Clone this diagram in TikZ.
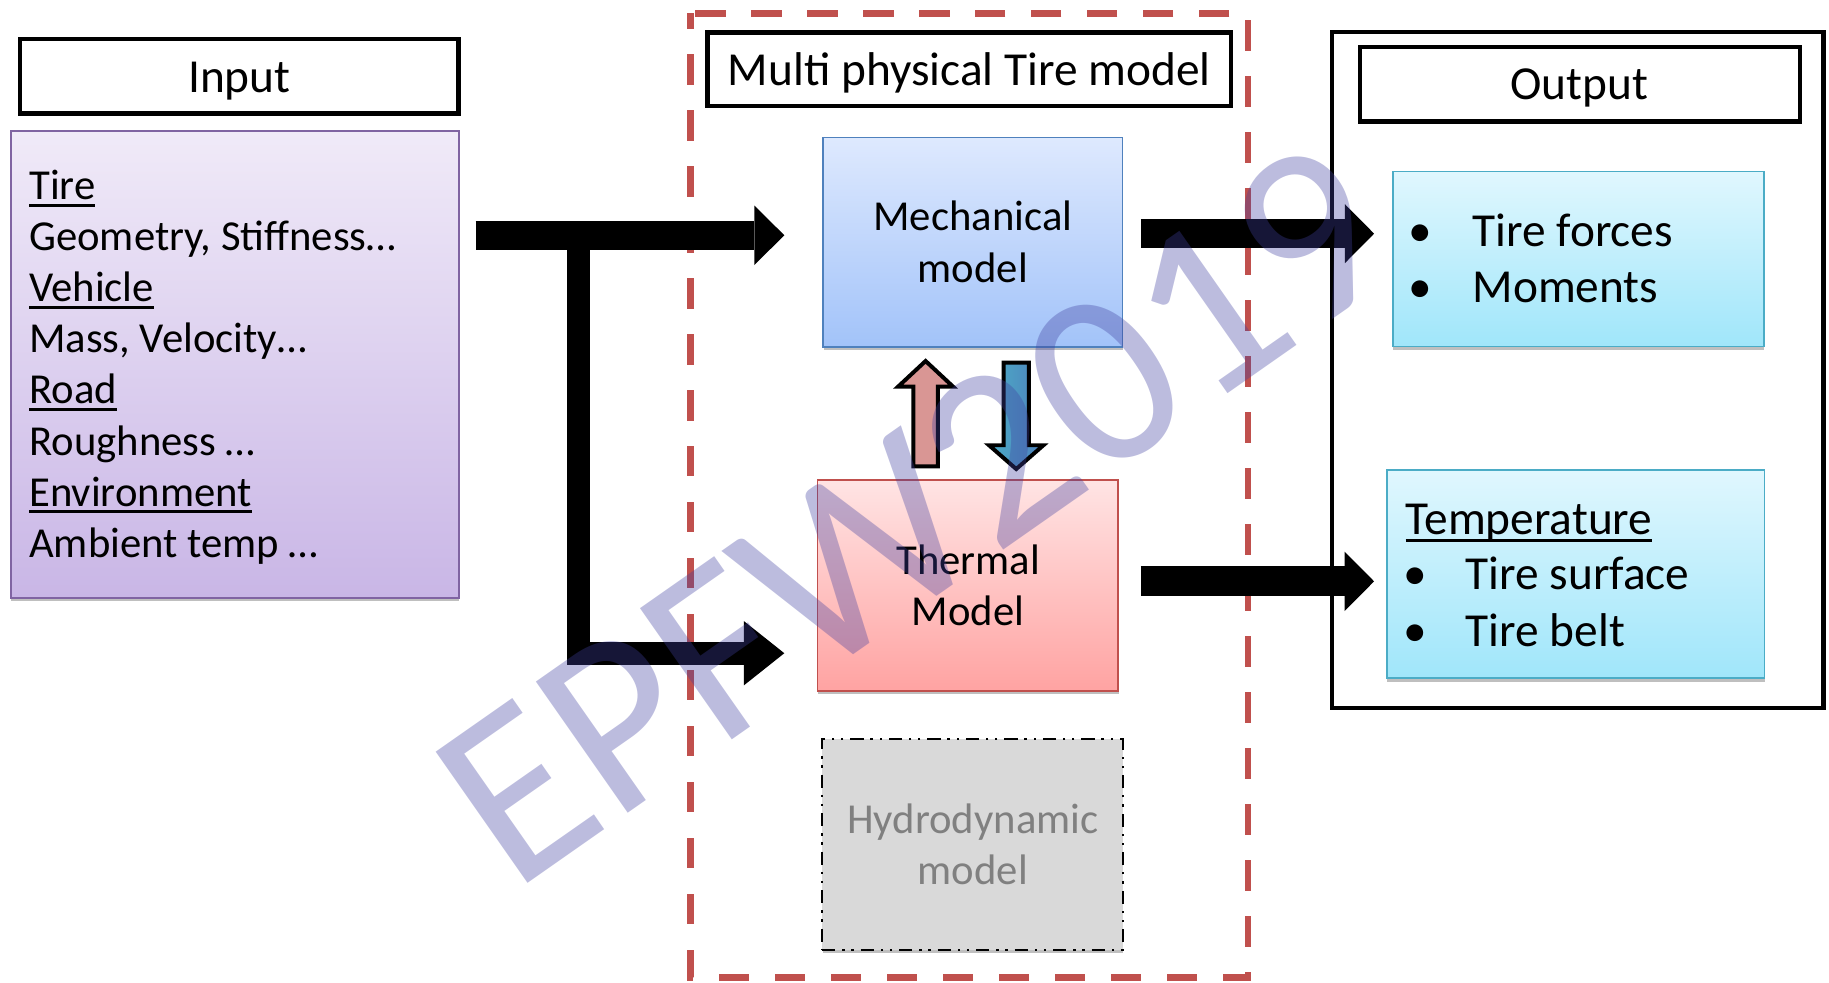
\documentclass[tikz,border=0pt]{standalone}
\usepackage{fontspec}
\setmainfont{Carlito}
\usetikzlibrary{arrows.meta,shadows}

\definecolor{frameRed}{HTML}{C0504D}
\definecolor{purpTop}{HTML}{F0EAF8}
\definecolor{purpBot}{HTML}{C9B6E6}
\definecolor{purpLine}{HTML}{8064A2}
\definecolor{mechTop}{HTML}{DEE9FE}
\definecolor{mechBot}{HTML}{A2C3F9}
\definecolor{mechLine}{HTML}{4F81BD}
\definecolor{thermTop}{HTML}{FFE4E4}
\definecolor{thermBot}{HTML}{FFA3A2}
\definecolor{cyanTop}{HTML}{E0F7FE}
\definecolor{cyanBot}{HTML}{A0E6FA}
\definecolor{cyanLine}{HTML}{4BACC6}
\definecolor{hydroFill}{HTML}{D9D9D9}
\definecolor{hydroText}{HTML}{808080}
\definecolor{upFill}{HTML}{D99694}
\definecolor{downA}{HTML}{4BACC6}
\definecolor{downB}{HTML}{4F81BD}
\definecolor{markCol}{RGB}{64,64,160}

% underline at a fixed depth below the baseline
\newsavebox{\ulbox}
\newcommand{\ulword}[1]{\sbox{\ulbox}{#1}\rlap{\rule[-0.165em]{\wd\ulbox}{0.07em}}\usebox{\ulbox}}

\newcommand{\fsList}{\fontsize{36.6}{44}\selectfont}
\newcommand{\fsHead}{\fontsize{40.6}{48}\selectfont}

\begin{document}
\begin{tikzpicture}[x=1pt,y=-1pt,
  hdr/.style={draw=black, line width=3.8pt, fill=white, inner sep=0pt},
  shadowed/.style={drop shadow={shadow xshift=0.5pt, shadow yshift=-3pt, opacity=0.25, fill=black}},
  panel/.style={line width=1.5pt, inner sep=0pt, shadowed},
  txt/.style={inner sep=0pt, anchor=base},
  ltxt/.style={inner sep=0pt, anchor=base west},
  bigarrow/.style={line width=#1, line cap=butt, line join=miter},
  smallarrow/.style={draw=black, line width=3.4pt, line join=miter}
]
\useasboundingbox (0,0) rectangle (1568,842);

% ---------------- input side ----------------
\node[hdr, minimum width=376pt, minimum height=64pt] (inHead) at (205.15,65.4) {};
\node[txt, font=\fsHead] (inTitle) at (205.15,79.6) {Input};

\node[panel, draw=purpLine, top color=purpTop, bottom color=purpBot,
      minimum width=384pt, minimum height=400pt] (inBox) at (201.3,312.55) {};
\node[ltxt, font=\fsList] (inL1) at (24.9,171.1) {\ulword{Tire}};
\node[ltxt, font=\fsList] (inL2) at (24.9,214.9) {Geometry, Stiffness…};
\node[ltxt, font=\fsList] (inL3) at (24.9,258.7) {\ulword{Vehicle}};
\node[ltxt, font=\fsList] (inL4) at (24.9,302.5) {Mass, Velocity…};
\node[ltxt, font=\fsList] (inL5) at (24.9,346.3) {\ulword{Road}};
\node[ltxt, font=\fsList] (inL6) at (24.9,390.1) {Roughness …};
\node[ltxt, font=\fsList] (inL7) at (24.9,433.9) {\ulword{Environment}};
\node[ltxt, font=\fsList] (inL8) at (24.9,477.7) {Ambient temp …};

% ---------------- tire model frame ----------------
\draw[frameRed, line width=5.5pt, dash pattern=on 26pt off 22pt, dash phase=13pt]
  (592,11.5) rectangle (1070,838);
\node[hdr, minimum width=449pt, minimum height=63pt] (modHead) at (830.9,59.3) {};
\node[txt, font=\fsHead] (modTitle) at (831,72.9) {Multi physical Tire model};

\node[panel, draw=mechLine, top color=mechTop, bottom color=mechBot,
      minimum width=256.5pt, minimum height=179.3pt] (mech) at (834,207.6) {};
\node[txt, font=\fsList] (mechT1) at (834,197.2) {Mechanical};
\node[txt, font=\fsList] (mechT2) at (834,242.3) {model};

\node[panel, draw=frameRed, top color=thermTop, bottom color=thermBot,
      minimum width=257.7pt, minimum height=180.5pt] (therm) at (829.6,502) {};
\node[txt, font=\fsList] (thermT1) at (830,492.8) {Thermal};
\node[txt, font=\fsList] (thermT2) at (830,536.5) {Model};

\node[panel, draw=black, line width=1.7pt, fill=hydroFill,
      dash pattern=on 11.4pt off 6pt on 2pt off 5.8pt on 2pt off 5.8pt,
      minimum width=257.6pt, minimum height=180.5pt] (hydro) at (833.55,724) {};
\node[txt, font=\fsList, text=hydroText] (hydroT1) at (834,714.4) {Hydrodynamic};
\node[txt, font=\fsList, text=hydroText] (hydroT2) at (834,758.1) {model};

% exchange between the mechanical and thermal models
\coordinate (upTip) at (793.5,309.5);
\coordinate (dnTip) at (871.2,402.1);
\draw[smallarrow, fill=upFill, shift={(upTip)}]
  (0,0) -- (23.6,22) -- (10.45,22) -- (10.45,90.3) -- (-10.45,90.3)
  -- (-10.45,22) -- (-23.6,22) -- cycle;
\draw[smallarrow, left color=downA, middle color=downA, right color=downB, shift={(dnTip)}]
  (0,0) -- (23.35,-20.4) -- (10.75,-20.4) -- (10.75,-91.2) -- (-10.75,-91.2)
  -- (-10.75,-20.4) -- (-23.35,-20.4) -- cycle;

% ---------------- output side ----------------
\node[draw=black, line width=3.5pt, inner sep=0pt,
      minimum width=421.5pt, minimum height=579.5pt] (outBox) at (1352.5,317.5) {};
\node[hdr, minimum width=377.5pt, minimum height=64pt] (outHead) at (1354.45,72.15) {};
\node[txt, font=\fsHead] (outTitle) at (1354,85.7) {Output};

\node[panel, draw=cyanLine, top color=cyanTop, bottom color=cyanBot,
      minimum width=318pt, minimum height=150pt] (forces) at (1352.95,222) {};
\node[txt, font=\fsHead] (fB1) at (1217.3,211.6) {•};
\node[ltxt, font=\fsHead] (fT1) at (1262.2,211.6) {Tire forces};
\node[txt, font=\fsHead] (fB2) at (1217.3,259.6) {•};
\node[ltxt, font=\fsHead] (fT2) at (1262.2,259.6) {Moments};

\node[panel, draw=cyanLine, top color=cyanTop, bottom color=cyanBot,
      minimum width=323.8pt, minimum height=178.6pt] (temps) at (1350.85,491.95) {};
\node[ltxt, font=\fsHead] (tT0) at (1204.8,458) {\ulword{Temperature}};
\node[txt, font=\fsHead] (tB1) at (1212.9,505.3) {•};
\node[ltxt, font=\fsHead] (tT1) at (1256.3,505.3) {Tire surface};
\node[txt, font=\fsHead] (tB2) at (1212.9,554.5) {•};
\node[ltxt, font=\fsHead] (tT2) at (1256.3,554.5) {Tire belt};

% ---------------- block arrows ----------------
\coordinate (inSrc) at (407.8,201.7);
\coordinate (mechIn) at (672.4,201.7);
\coordinate (branch) at (495.8,201.7);
\coordinate (corner) at (495.8,560);
\coordinate (thermIn) at (672.4,560);
\coordinate (mechOutA) at (978,200.3);
\coordinate (mechOutB) at (1178,200.3);
\coordinate (thermOutA) at (978,498.4);
\coordinate (thermOutB) at (1178,498.4);

\draw[bigarrow=25.1pt, -{Triangle[length=25.7pt, width=51pt, line width=0pt]}]
  (inSrc) -- (mechIn);
\draw[bigarrow=20pt, -{Triangle[length=34.6pt, width=55pt, line width=0pt]}]
  (branch) -- (corner) -- (thermIn);
\draw[bigarrow=25.2pt, -{Triangle[length=25pt, width=50.5pt, line width=0pt]}]
  (mechOutA) -- (mechOutB);
\draw[bigarrow=25.6pt, -{Triangle[length=25.3pt, width=51pt, line width=0pt]}]
  (thermOutA) -- (thermOutB);

% ---------------- watermark ----------------
\node[rotate=35, anchor=base west, inner sep=0pt, text=markCol, text opacity=0.35,
      font=\fontsize{214}{214}\selectfont] (mark) at (440,766) {EPFW2019};
\end{tikzpicture}
\end{document}
